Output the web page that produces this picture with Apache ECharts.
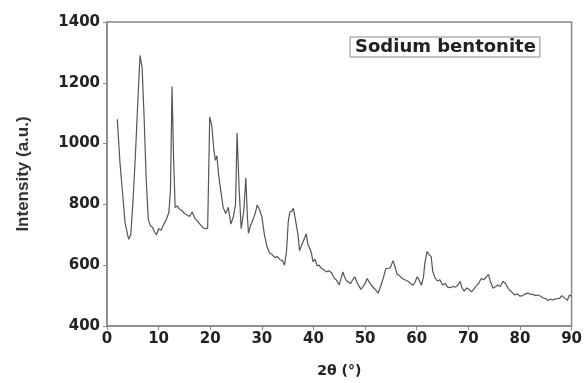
<!DOCTYPE html>
<html>
<head>
<meta charset="utf-8">
<script src="https://cdn.jsdelivr.net/npm/echarts@6/dist/echarts.min.js"></script>
<style>
  html, body { margin: 0; padding: 0; background: #fff; }
  #main { width: 585px; height: 383px; }
</style>
</head>
<body>
<div id="main"></div>
<script>
// XRD pattern
var twoTheta = [
  2.0, 2.5, 3.0, 3.5, 4.0, 4.2, 4.6, 5.0, 5.5, 6.0, 6.4, 6.8, 7.2, 7.6, 8.0, 8.4, 8.8, 9.2, 9.6, 10.0,
  10.5, 11.0, 11.5, 12.0, 12.3, 12.6, 12.9, 13.2, 13.6, 14.0, 14.5, 15.0, 15.5, 16.0, 16.5, 17.0, 17.5, 18.0, 18.5, 19.0,
  19.5, 19.9, 20.3, 20.7, 21.0, 21.3, 21.6, 22.0, 22.5, 23.0, 23.5, 24.0, 24.5, 24.9, 25.2, 25.6, 26.0, 26.5, 26.9, 27.2,
  27.4, 27.8, 28.3, 28.7, 29.1, 29.5, 30.0, 30.5, 31.0, 31.5, 32.0, 32.5, 33.0, 33.5, 34.0, 34.4, 34.8, 35.1, 35.4, 35.8,
  36.1, 36.4, 36.7, 37.0, 37.3, 37.7, 38.0, 38.3, 38.6, 38.9, 39.3, 39.6, 39.9, 40.3, 40.7, 41.1, 41.5, 42.0, 42.5, 43.0,
  43.5, 44.0, 44.5, 45.0, 45.4, 45.7, 46.0, 46.4, 46.8, 47.2, 47.6, 48.0, 48.4, 48.8, 49.2, 49.5, 50.0, 50.4, 50.8, 51.2,
  51.7, 52.1, 52.5, 53.0, 53.5, 54.0, 54.5, 54.9, 55.4, 55.8, 56.2, 56.7, 57.2, 57.7, 58.3, 58.8, 59.3, 59.7, 60.1, 60.5,
  60.9, 61.3, 61.6, 62.0, 62.4, 62.8, 63.1, 63.5, 64.0, 64.5, 65.0, 65.5, 66.0, 66.5, 67.0, 67.5, 68.0, 68.4, 68.8, 69.2,
  69.7, 70.2, 70.6, 71.1, 71.6, 72.0, 72.5, 73.0, 73.4, 73.9, 74.3, 74.8, 75.3, 75.7, 76.2, 76.7, 77.2, 77.7, 78.2, 78.6,
  79.0, 79.5, 80.0, 80.5, 81.0, 81.5, 82.0, 82.5, 83.0, 83.5, 84.0, 84.5, 85.0, 85.4, 85.9, 86.4, 86.8, 87.3, 87.7, 88.1,
  88.4, 88.8, 89.2, 89.6, 90.0
];
var intensity = [
  1080, 940, 840, 740, 700, 685, 700, 800, 960, 1150, 1290, 1250, 1080, 880, 750, 730, 725, 710, 700, 720,
  715, 735, 750, 775, 850, 1188, 950, 790, 795, 785, 780, 770, 765, 760, 775, 755, 745, 735, 725, 720,
  722, 1088, 1060, 980, 945, 960, 900, 850, 790, 770, 790, 735, 760, 800, 1035, 850, 720, 780, 887, 760,
  705, 730, 750, 770, 798, 785, 760, 700, 660, 640, 635, 625, 628, 618, 615, 600, 650, 740, 775, 778,
  787, 760, 730, 700, 648, 665, 660, 690, 703, 670, 655, 640, 612, 620, 598, 600, 590, 585, 578, 582,
  575, 558, 550, 535, 560, 578, 562, 548, 545, 540, 552, 562, 545, 532, 520, 515, 540, 556, 545, 534,
  525, 518, 508, 530, 556, 589, 590, 592, 615, 595, 570, 565, 556, 552, 547, 540, 534, 545, 562, 550,
  534, 560, 610, 645, 635, 628, 580, 560, 548, 552, 535, 540, 528, 526, 530, 528, 535, 547, 525, 515,
  525, 520, 512, 522, 534, 540, 556, 552, 560, 570, 545, 524, 530, 535, 530, 547, 540, 524, 515, 508,
  502, 506, 498, 500, 505, 508, 505, 504, 500, 502, 498, 492, 490, 484, 488, 486, 489, 490, 491, 500,
  505, 490, 485, 502, 498
];
var seriesName = 'Sodium bentonite';

var points = twoTheta.map(function (t, i) { return [t, intensity[i]]; });

var chart = echarts.init(document.getElementById('main'));
var tickFont = { fontFamily: 'DejaVu Sans', fontWeight: 'bold', fontSize: 15, color: '#222' };
var plain = function (v) { return String(v); };

chart.setOption({
  animation: false,
  backgroundColor: '#fff',
  grid: {
    left: 107, right: 13, top: 22, bottom: 55,
    show: true, borderColor: '#888', borderWidth: 1.5
  },
  legend: {
    data: [{ name: seriesName, icon: 'none' }],
    left: 350, top: 37,
    itemWidth: 0, itemHeight: 0,
    padding: [1, 4, 1, 0],
    borderColor: '#888', borderWidth: 1,
    textStyle: { fontFamily: 'DejaVu Sans', fontWeight: 'bold', fontSize: 18, color: '#222' }
  },
  xAxis: {
    type: 'value',
    min: 0, max: 90, interval: 10,
    name: '2θ (°)',
    nameLocation: 'middle',
    nameGap: 38,
    nameTextStyle: { fontFamily: 'DejaVu Sans', fontWeight: 'bold', fontSize: 14, color: '#222' },
    axisLine: { lineStyle: { color: '#888', width: 1.5 } },
    axisTick: { show: true, length: 4, lineStyle: { color: '#888' } },
    axisLabel: Object.assign({ margin: 6, formatter: plain }, tickFont),
    splitLine: { show: false }
  },
  yAxis: {
    type: 'value',
    min: 400, max: 1400, interval: 200,
    name: 'Intensity (a.u.)',
    nameLocation: 'middle',
    nameGap: 75,
    nameTextStyle: { fontFamily: 'Liberation Sans', fontWeight: 'bold', fontSize: 17, color: '#333' },
    axisLine: { show: true, lineStyle: { color: '#888', width: 1.5 } },
    axisTick: { show: true, length: 4, lineStyle: { color: '#888' } },
    axisLabel: Object.assign({ margin: 7, formatter: plain }, tickFont),
    splitLine: { show: false }
  },
  series: [{
    name: seriesName,
    type: 'line',
    data: points,
    showSymbol: false,
    lineStyle: { color: '#555', width: 1.2 },
    itemStyle: { color: '#555' }
  }]
});
</script>
</body>
</html>
